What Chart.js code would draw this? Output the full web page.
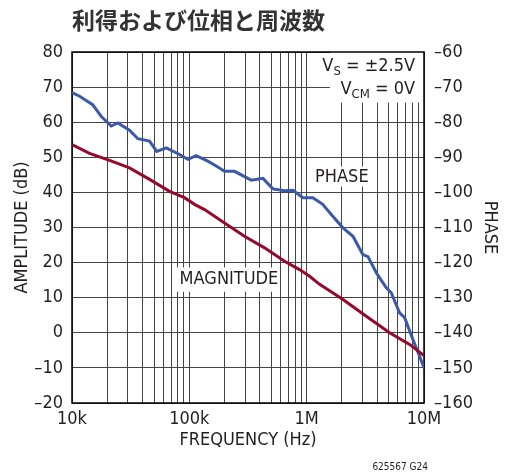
<!DOCTYPE html>
<html>
<head>
<meta charset="utf-8">
<script src="https://cdn.jsdelivr.net/npm/chart.js@4.4.1/dist/chart.umd.min.js"></script>
<style>
  html, body { margin: 0; padding: 0; background: #fff; }
</style>
</head>
<body>
<canvas id="gain-chart" width="516" height="473"></canvas>
<script>
// magnitude curve (dB)
var magFreq = [10000, 14100, 20900, 30900, 45800, 67800, 90900, 110700, 134800, 199500, 295000,
               437600, 648000, 869000, 1060000, 1290000, 2040000, 3220000, 5090000, 7540000, 10000000]
var magDb = [53.6, 51.1, 49.1, 47.0, 43.7, 40.3, 38.5, 36.6, 35.1, 31.3, 27.5,
             24.2, 20.4, 18.0, 16.1, 13.8, 9.5, 4.7, 0.0, -3.3, -6.5]

// phase curve (deg), right axis
var phaseFreq = [10000, 11600, 15000, 17700, 21600, 24600, 30900, 36400, 45800, 52800,
                 63600, 82500, 97100, 114500, 143800, 169400, 199500, 242700, 337000, 424000,
                 515000, 648000, 763000, 929000, 1130000, 1370000, 1620000, 2040000, 2480000, 3010000,
                 3330000, 3920000, 4770000, 5260000, 6190000, 6840000, 8040000, 9170000, 10000000]
var phaseDeg = [-71.6, -72.6, -75.0, -78.3, -81.1, -80.2, -82.3, -84.7, -85.4, -88.3,
                -87.3, -89.2, -90.6, -89.5, -91.1, -92.5, -94.0, -94.0, -96.5, -96.0,
                -99.0, -99.5, -99.4, -101.5, -101.5, -103.4, -106.3, -110.1, -112.5, -117.7,
                -118.3, -122.9, -127.2, -128.6, -134.3, -135.7, -141.9, -146.7, -150.0]

// axis ticks
var freqDecades = [10000, 100000, 1000000, 10000000]
var freqLabels = ["10k", "100k", "1M", "10M"]
var minorSteps = [1, 2, 3, 4, 5, 6, 7, 8, 9]

var FONT = "'Liberation Sans Narrow', 'DejaVu Sans Condensed', 'Liberation Sans', sans-serif"
var INK = "#231f20"

function toPoints(xs, ys) {
    var pts = []
    for (var i = 0; i < xs.length; i++) {
        pts.push({ x: xs[i], y: ys[i] })
    }
    return pts
}

// every 1..9 x decade for the log grid
var gridFreqs = []
for (var d = 0; d < freqDecades.length - 1; d++) {
    for (var m = 0; m < minorSteps.length; m++) {
        gridFreqs.push(freqDecades[d] * minorSteps[m])
    }
}
gridFreqs.push(freqDecades[freqDecades.length - 1])

function dash(v) {
    return v < 0 ? "\u2013" + Math.abs(v) : "" + v
}

// white boxed labels inside the plot, placed in data units
const notesPlugin = {
    id: "notes",
    beforeDatasetsDraw(chart) {
        var ctx = chart.ctx
        var xs = chart.scales.x
        var ys = chart.scales.y
        var area = chart.chartArea

        function box(f0, f1, a0, a1) {
            var x0 = xs.getPixelForValue(f0), x1 = xs.getPixelForValue(f1)
            var y0 = ys.getPixelForValue(a0), y1 = ys.getPixelForValue(a1)
            ctx.fillRect(x0, y0, x1 - x0, y1 - y0)
        }

        ctx.save()
        ctx.fillStyle = "#fff"
        box(1580000, 10000000, 80, 65.6)
        box(1110000, 3470000, 47.4, 41.7)
        box(78500, 560000, 18.6, 11.7)

        ctx.fillStyle = INK
        ctx.textBaseline = "middle"
        ctx.font = "18px " + FONT
        ctx.textAlign = "left"
        ctx.fillText("PHASE", xs.getPixelForValue(1180000), ys.getPixelForValue(44.2))
        ctx.fillText("MAGNITUDE", xs.getPixelForValue(82600), ys.getPixelForValue(15.2))

        // V_S and V_CM lines, right aligned
        var big = "18px " + FONT, small = "13px " + FONT
        var rows = [["V", "S", " = \u00b12.5V", 75.9], ["V", "CM", " = 0V", 69.3]]
        var right = xs.getPixelForValue(8400000)
        rows.forEach(function (r) {
            ctx.font = big
            var w1 = ctx.measureText(r[0]).width, w3 = ctx.measureText(r[2]).width
            ctx.font = small
            var w2 = ctx.measureText(r[1]).width
            var x = right - w1 - w2 - w3
            var y = ys.getPixelForValue(r[3])
            ctx.font = big
            ctx.fillText(r[0], x, y)
            ctx.font = small
            ctx.fillText(r[1], x + w1, y + 5)
            ctx.font = big
            ctx.fillText(r[2], x + w1 + w2, y)
        })

        // frame
        ctx.strokeStyle = "#000"
        ctx.lineWidth = 1.5
        ctx.strokeRect(area.left, area.top, area.right - area.left, area.bottom - area.top)
        ctx.restore()
    },
    afterDraw(chart) {
        var ctx = chart.ctx
        ctx.save()
        ctx.fillStyle = "#333"
        ctx.textBaseline = "alphabetic"
        ctx.font = "bold 23px 'Noto Sans CJK JP', sans-serif"
        ctx.fillText("利得および位相と周波数", chart.chartArea.left, 29)
        ctx.fillStyle = INK
        ctx.font = "10px " + FONT
        ctx.textAlign = "right"
        ctx.fillText("625567 G24", 428, 470)
        ctx.restore()
    }
}

const gainData = {
    datasets: [
        {
            label: "Magnitude",
            data: toPoints(magFreq, magDb),
            borderColor: "#950a2c",
            yAxisID: "y"
        },
        {
            label: "Phase",
            data: toPoints(phaseFreq, phaseDeg),
            borderColor: "#3a5aa8",
            yAxisID: "y2"
        }
    ]
}

const gainConfig = {
    type: "line",
    data: gainData,
    plugins: [notesPlugin],
    options: {
        responsive: false,
        animation: false,
        layout: { padding: { top: 52, left: 0, right: 0, bottom: 0 } },
        elements: {
            point: { radius: 0 },
            line: { borderWidth: 3, tension: 0 }
        },
        plugins: {
            legend: { display: false },
            tooltip: { enabled: false }
        },
        scales: {
            x: {
                type: "logarithmic",
                position: "bottom",
                min: 10000,
                max: 10000000,
                afterBuildTicks: function (scale) {
                    scale.ticks = gridFreqs.map(function (v) { return { value: v } })
                },
                afterFit: function (scale) { scale.height = 70 },
                grid: { color: "#444", lineWidth: 1, drawTicks: false },
                border: { display: false },
                ticks: {
                    autoSkip: false,
                    maxRotation: 0,
                    padding: 6,
                    color: INK,
                    font: { family: FONT, size: 18 },
                    callback: function (v) {
                        var i = freqDecades.indexOf(v)
                        return i >= 0 ? freqLabels[i] : ""
                    }
                },
                title: {
                    display: true,
                    text: "FREQUENCY (Hz)",
                    color: INK,
                    font: { family: FONT, size: 18 },
                    padding: { bottom: 22 }
                }
            },
            y: {
                position: "left",
                min: -20,
                max: 80,
                afterFit: function (scale) { scale.width = 72 },
                grid: { color: "#444", lineWidth: 1, drawTicks: false },
                border: { display: false },
                ticks: {
                    stepSize: 10,
                    padding: 9,
                    color: INK,
                    font: { family: FONT, size: 18 },
                    callback: dash
                },
                title: {
                    display: true,
                    text: "AMPLITUDE (dB)",
                    color: INK,
                    font: { family: FONT, size: 18 },
                    padding: { top: 12 }
                }
            },
            y2: {
                position: "right",
                min: -160,
                max: -60,
                afterFit: function (scale) { scale.width = 92 },
                grid: { display: false, drawTicks: false },
                border: { display: false },
                ticks: {
                    stepSize: 10,
                    padding: 10,
                    color: INK,
                    font: { family: FONT, size: 18 },
                    callback: dash
                },
                title: {
                    display: true,
                    text: "PHASE",
                    color: INK,
                    font: { family: FONT, size: 18 },
                    padding: { top: 16 }
                }
            }
        }
    }
}

var gainChart = new Chart(document.getElementById("gain-chart"), gainConfig)
</script>
</body>
</html>
